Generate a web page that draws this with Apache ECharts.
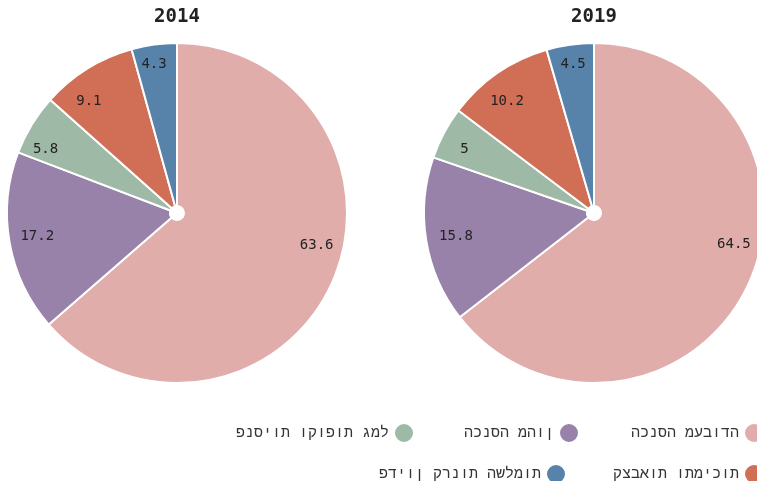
<!DOCTYPE html>
<html>
<head>
<meta charset="utf-8">
<script src="https://cdn.jsdelivr.net/npm/echarts@6/dist/echarts.min.js"></script>
<style>
  html, body { margin: 0; padding: 0; background: #fff; }
  #chart { width: 757px; height: 481px; }
</style>
</head>
<body>
<div id="chart"></div>
<script>
// categories (order clockwise from top)
const categories = ['הכנסה מעבודה', 'הכנסה מהון', 'פנסיות וקופות גמל', 'קצבאות ותמיכות', 'פדיון קרנות השלמות'];
const colors = ['#e0adab', '#9882a9', '#9eb9a5', '#d06f55', '#5783ab'];
const years = ['2014', '2019'];
const values2014 = [63.6, 17.2, 5.8, 9.1, 4.3];
const values2019 = [64.5, 15.8, 5, 10.2, 4.5];

const numFont = 'DejaVu Sans Mono';
const textFont = 'Liberation Mono';
const centers = [[177, 213], [594, 213]];
// small nudges so the value labels sit where the original put them
const labelShift = [
  [[5, -29], [6, -3], [-5, 13], [-10, 14], [-3, -2]],
  [[7, -34], [8, -1], [1, 6], [-3, 10], [0, -2]],
];

const chart = echarts.init(document.getElementById('chart'));

const series = [];
[values2014, values2019].forEach((vals, k) => {
  // the slices
  series.push({
    type: 'pie',
    center: centers[k],
    radius: [7, 170],
    startAngle: 90,
    silent: true,
    itemStyle: { borderColor: '#fff', borderWidth: 2 },
    label: { show: false },
    labelLine: { show: false },
    data: vals.map((v, i) => ({ name: categories[i], value: v, itemStyle: { color: colors[i] } })),
  });
  // transparent ring, only to place the value labels
  series.push({
    type: 'pie',
    center: centers[k],
    radius: [120, 170],
    startAngle: 90,
    silent: true,
    itemStyle: { color: 'transparent', borderWidth: 0 },
    label: {
      show: true,
      position: 'inside',
      formatter: '{c}',
      fontFamily: numFont,
      fontSize: 14,
      color: '#222',
    },
    labelLine: { show: false },
    data: vals.map((v, i) => ({
      name: categories[i] + ' ',
      value: v,
      label: { offset: labelShift[k][i] },
    })),
  });
});

// one legend per item, laid out right-to-left
const legendPos = [
  { idx: 0, right: -8, top: 422 },
  { idx: 1, right: 177, top: 422 },
  { idx: 2, right: 342, top: 422 },
  { idx: 3, right: -8, top: 463 },
  { idx: 4, right: 190, top: 463 },
];
const legends = legendPos.map((p) => ({
  data: [{ name: categories[p.idx], icon: 'circle' }],
  right: p.right,
  top: p.top,
  align: 'right',
  padding: 0,
  itemWidth: 20,
  itemHeight: 20,
  selectedMode: false,
  // the original shows the letters in stored order, left to right
  formatter: (name) => '\u202D' + name + '\u202C',
  textStyle: { fontFamily: textFont, fontSize: 15, color: '#333' },
}));

chart.setOption({
  animation: false,
  color: colors,
  title: years.map((y, k) => ({
    text: y,
    left: centers[k][0],
    top: 8,
    padding: 0,
    textAlign: 'center',
    textStyle: { fontFamily: numFont, fontSize: 19, fontWeight: 'bold', color: '#222' },
  })),
  legend: legends,
  series: series,
});
</script>
</body>
</html>
